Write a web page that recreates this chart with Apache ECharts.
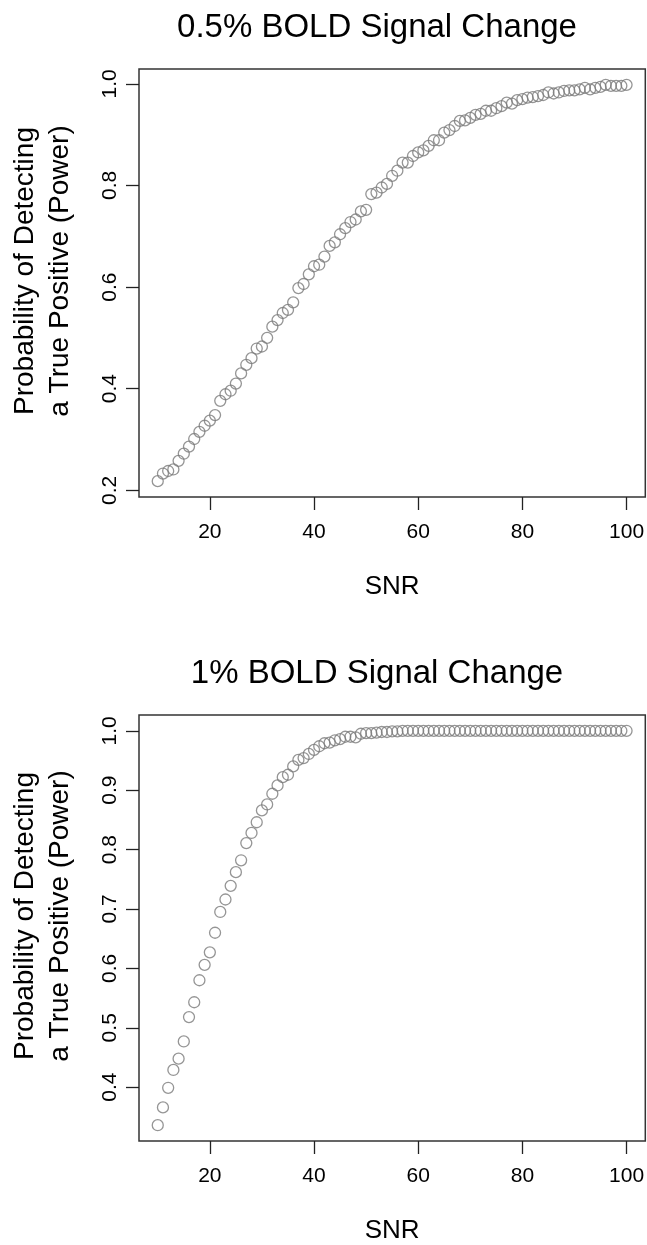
<!DOCTYPE html>
<html>
<head>
<meta charset="utf-8">
<script src="https://cdn.jsdelivr.net/npm/echarts@6/dist/echarts.min.js"></script>
<style>
  html, body { margin: 0; padding: 0; background: #fff; }
  #chart { width: 647px; height: 1245px; }
</style>
</head>
<body>
<div id="chart"></div>
<script>
// SNR values (x) shared by both panels
const snr = [10, 11, 12, 13, 14, 15, 16, 17, 18, 19,
  20, 21, 22, 23, 24, 25, 26, 27, 28, 29,
  30, 31, 32, 33, 34, 35, 36, 37, 38, 39,
  40, 41, 42, 43, 44, 45, 46, 47, 48, 49,
  50, 51, 52, 53, 54, 55, 56, 57, 58, 59,
  60, 61, 62, 63, 64, 65, 66, 67, 68, 69,
  70, 71, 72, 73, 74, 75, 76, 77, 78, 79,
  80, 81, 82, 83, 84, 85, 86, 87, 88, 89,
  90, 91, 92, 93, 94, 95, 96, 97, 98, 99, 100];

// power for 0.5% BOLD signal change
const power05 = [0.218, 0.233, 0.238, 0.241, 0.258, 0.272, 0.286, 0.301, 0.315, 0.327,
  0.337, 0.348, 0.376, 0.389, 0.396, 0.410, 0.430, 0.447, 0.460, 0.479,
  0.483, 0.500, 0.522, 0.535, 0.549, 0.555, 0.570, 0.598, 0.606, 0.625,
  0.641, 0.644, 0.660, 0.681, 0.688, 0.704, 0.716, 0.728, 0.733, 0.749,
  0.752, 0.783, 0.786, 0.796, 0.803, 0.819, 0.829, 0.845, 0.845, 0.858,
  0.865, 0.869, 0.878, 0.889, 0.889, 0.904, 0.909, 0.917, 0.927, 0.928,
  0.933, 0.939, 0.941, 0.947, 0.947, 0.952, 0.956, 0.963, 0.961, 0.968,
  0.970, 0.973, 0.974, 0.976, 0.978, 0.983, 0.981, 0.983, 0.986, 0.987,
  0.987, 0.989, 0.992, 0.989, 0.992, 0.994, 0.998, 0.996, 0.996, 0.996, 0.998];

// power for 1% BOLD signal change
const power1 = [0.336, 0.366, 0.399, 0.429, 0.448, 0.477, 0.518, 0.543, 0.580, 0.606,
  0.627, 0.660, 0.695, 0.716, 0.739, 0.762, 0.782, 0.811, 0.828, 0.846,
  0.866, 0.876, 0.894, 0.908, 0.922, 0.926, 0.940, 0.951, 0.954, 0.961,
  0.968, 0.974, 0.979, 0.980, 0.984, 0.986, 0.990, 0.990, 0.989, 0.995,
  0.996, 0.996, 0.997, 0.998, 0.998, 0.999, 0.999, 1.000, 1.000, 1.000,
  1.000, 1.000, 1.000, 1.000, 1.000, 1.000, 1.000, 1.000, 1.000, 1.000,
  1.000, 1.000, 1.000, 1.000, 1.000, 1.000, 1.000, 1.000, 1.000, 1.000,
  1.000, 1.000, 1.000, 1.000, 1.000, 1.000, 1.000, 1.000, 1.000, 1.000,
  1.000, 1.000, 1.000, 1.000, 1.000, 1.000, 1.000, 1.000, 1.000, 1.000, 1.000];

// tick labels
const xTicks = [20, 40, 60, 80, 100];
const yTicks05 = [0.2, 0.4, 0.6, 0.8, 1.0];
const yTicks1 = [0.4, 0.5, 0.6, 0.7, 0.8, 0.9, 1.0];

const titles = ['0.5% BOLD Signal Change', '1% BOLD Signal Change'];
const yName = 'Probability of Detecting\na True Positive (Power)';

const font = "'Liberation Sans', Arial, Helvetica, sans-serif";
const ink = '#222';

function xAxisFor(gridIndex) {
  return {
    type: 'value', gridIndex: gridIndex,
    min: 6.4, max: 103.6,
    axisLine: { show: false },
    splitLine: { show: false },
    axisTick: { show: true, customValues: xTicks, length: 13, lineStyle: { color: ink, width: 1.3 } },
    axisLabel: { customValues: xTicks, fontSize: 21, color: '#000', fontFamily: font, margin: 25 },
    name: 'SNR', nameLocation: 'middle', nameGap: 77,
    nameTextStyle: { fontSize: 26, color: '#000', fontFamily: font }
  };
}

function yAxisFor(gridIndex, min, max, ticks) {
  return {
    type: 'value', gridIndex: gridIndex,
    min: min, max: max,
    axisLine: { show: false },
    splitLine: { show: false },
    axisTick: { show: true, customValues: ticks, length: 13, lineStyle: { color: ink, width: 1.3 } },
    axisLabel: {
      customValues: ticks, rotate: 90, fontSize: 21, color: '#000', fontFamily: font, margin: 18,
      formatter: v => v.toFixed(1)
    },
    name: yName, nameLocation: 'middle', nameRotate: 90, nameGap: 61,
    // a little padding on one side nudges the two-line label upwards, as in the original
    nameTextStyle: { fontSize: 28, color: '#000', fontFamily: font, lineHeight: 35, align: 'center',
      padding: [0, 0, 0, 24] }
  };
}

function pointsFor(values) {
  return snr.map((s, i) => [s, values[i]]);
}

const pointStyle = { color: 'rgba(0,0,0,0)', borderColor: '#7a7a7a', borderWidth: 1.3 };

const chart = echarts.init(document.getElementById('chart'), null, { renderer: 'canvas' });
chart.setOption({
  animation: false,
  backgroundColor: '#fff',
  title: [
    { text: titles[0], left: 372, top: 6, textAlign: 'center',
      textStyle: { fontSize: 33, fontWeight: 'normal', color: '#000', fontFamily: font } },
    { text: titles[1], left: 372, top: 652, textAlign: 'center',
      textStyle: { fontSize: 33, fontWeight: 'normal', color: '#000', fontFamily: font } }
  ],
  grid: [
    { left: 137, top: 69, width: 509, height: 428, show: true, borderColor: '#333', borderWidth: 1.5, backgroundColor: 'transparent' },
    { left: 137, top: 715, width: 509, height: 428.5, show: true, borderColor: '#333', borderWidth: 1.5, backgroundColor: 'transparent' }
  ],
  xAxis: [xAxisFor(0), xAxisFor(1)],
  yAxis: [
    yAxisFor(0, 0.1868, 1.0292, yTicks05),
    yAxisFor(1, 0.3094, 1.0266, yTicks1)
  ],
  series: [
    { type: 'scatter', xAxisIndex: 0, yAxisIndex: 0, data: pointsFor(power05),
      symbol: 'circle', symbolSize: 11, itemStyle: pointStyle },
    { type: 'scatter', xAxisIndex: 1, yAxisIndex: 1, data: pointsFor(power1),
      symbol: 'circle', symbolSize: 11, itemStyle: pointStyle }
  ]
});
</script>
</body>
</html>
